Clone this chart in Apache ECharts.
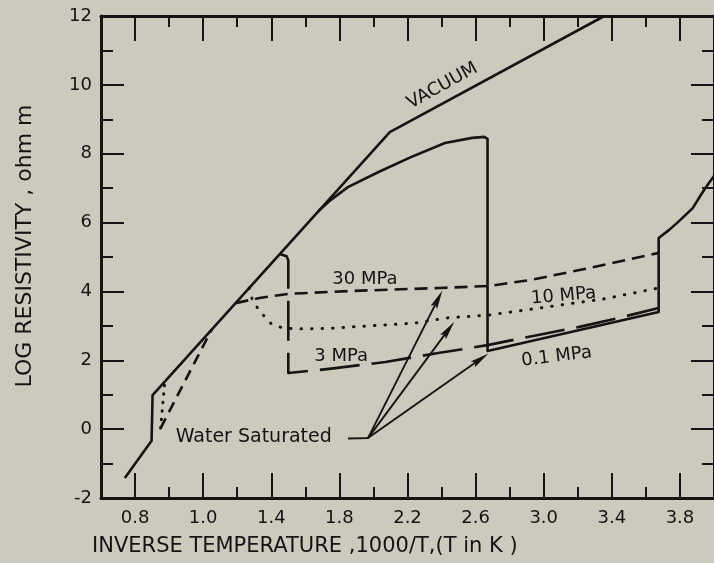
<!DOCTYPE html>
<html>
<head>
<meta charset="utf-8">
<script src="https://cdn.jsdelivr.net/npm/echarts@6/dist/echarts.min.js"></script>
<style>
  html, body { margin: 0; padding: 0; background: #cdc9bc; }
  #chart { width: 714px; height: 563px; }
</style>
</head>
<body>
<div id="chart"></div>
<script>
// Log resistivity versus inverse temperature, dry (vacuum) and water saturated.
const xTickValues = [0.6, 1.0, 1.4, 1.8, 2.2, 2.6, 3.0, 3.4, 3.8];
const xTickLabels = ['0.8', '1.0', '1.4', '1.8', '2.2', '2.6', '3.0', '3.4', '3.8'];

const vacuumX = [0.54, 0.697, 0.703, 2.096, 3.356];
const vacuumY = [-1.42, -0.34, 0.99, 8.63, 12.0];

// 0.1 MPa (solid)
const p01X = [1.676, 1.75, 1.85, 2.03, 2.22, 2.42, 2.58, 2.65, 2.67, 2.67, 3.675, 3.675, 3.735, 3.79, 3.875, 3.93, 3.97, 4.0];
const p01Y = [6.33, 6.66, 7.03, 7.47, 7.90, 8.31, 8.46, 8.49, 8.43, 2.27, 3.40, 5.55, 5.78, 6.02, 6.42, 6.86, 7.15, 7.35];

// 3 MPa (long dash)
const p3X = [1.45, 1.49, 1.50, 1.50, 1.74, 2.07, 2.38, 2.67, 2.96, 3.21, 3.44, 3.675];
const p3Y = [5.09, 5.02, 4.90, 1.63, 1.75, 1.95, 2.21, 2.44, 2.73, 2.97, 3.23, 3.52];

// 10 MPa (dotted)
const p10HotX = [0.75, 0.775];
const p10HotY = [0.03, 1.39];
const p10X = [1.27, 1.29, 1.34, 1.40, 1.46, 1.55, 1.75, 2.24, 2.43, 2.69, 3.02, 3.35, 3.675];
const p10Y = [4.10, 3.72, 3.38, 3.06, 2.95, 2.91, 2.93, 3.08, 3.23, 3.32, 3.55, 3.78, 4.10];

// 30 MPa (short dash)
const p30HotX = [0.75, 1.05];
const p30HotY = [0.03, 2.89];
const p30X = [1.19, 1.33, 1.50, 1.85, 2.39, 2.68, 2.92, 3.21, 3.675];
const p30Y = [3.66, 3.81, 3.93, 4.01, 4.10, 4.16, 4.33, 4.62, 5.12];

// "Water Saturated" leader and arrows: [fromX, fromY, toX, toY, arrowhead]
const leaders = [
  [1.851, -0.27, 1.968, -0.26, 0],
  [1.968, -0.26, 2.405, 4.03, 1],
  [1.968, -0.26, 2.475, 3.12, 1],
  [1.968, -0.26, 2.675, 2.20, 1]
];

// Curve annotations
const noteText = ['VACUUM', '30 MPa', '3 MPa', '10 MPa', '0.1 MPa'];
const noteX = [2.405, 1.95, 1.81, 3.117, 3.076];
const noteY = [9.97, 4.36, 2.12, 3.87, 2.10];
const noteAngle = [29, 0, 0, 5, 7];

const waterText = 'Water Saturated';
const waterPos = [0.839, -0.23];

const ink = '#141414';
const font = 'DejaVu Sans';

const pairs = (xs, ys) => xs.map((x, i) => [x, ys[i]]);

function curve(xs, ys, dash, extra) {
  return Object.assign({
    type: 'line',
    data: pairs(xs, ys),
    symbol: 'none',
    smooth: false,
    silent: true,
    animation: false,
    clip: true,
    lineStyle: { color: ink, width: 2.6, type: dash, cap: 'butt', join: 'round' }
  }, extra || {});
}

const chart = echarts.init(document.getElementById('chart'), null, { renderer: 'canvas' });

const xBase = {
  type: 'value', min: 0.4, max: 4.0, interval: 0.4,
  axisLine: { show: true, onZero: false, lineStyle: { color: ink, width: 3 } },
  axisTick: { show: true, inside: true, length: 11, lineStyle: { color: ink, width: 2 } },
  minorTick: { show: true, splitNumber: 2, length: 25, lineStyle: { color: ink, width: 2 } },
  splitLine: { show: false }
};

const yBase = {
  type: 'value', min: -2, max: 12, interval: 2,
  axisLine: { show: true, onZero: false, lineStyle: { color: ink, width: 3 } },
  axisTick: { show: true, inside: true, length: 23, lineStyle: { color: ink, width: 2 } },
  minorTick: { show: true, splitNumber: 2, length: 12, lineStyle: { color: ink, width: 2 } },
  splitLine: { show: false }
};

const option = {
  backgroundColor: '#cdc9bc',
  animation: false,
  grid: { left: 101, top: 16, width: 617.4, height: 482, containLabel: false },
  xAxis: [
    Object.assign({}, xBase, {
      position: 'bottom',
      axisLabel: {
        show: true,
        customValues: xTickValues,
        margin: 11,
        color: ink, fontSize: 18, fontFamily: font,
        formatter: function (v) {
          let best = 0;
          xTickValues.forEach((t, i) => { if (Math.abs(t - v) < Math.abs(xTickValues[best] - v)) best = i; });
          return xTickLabels[best];
        }
      }
    }),
    Object.assign({}, xBase, { position: 'top', axisLabel: { show: false } })
  ],
  yAxis: [
    Object.assign({}, yBase, {
      position: 'left',
      axisLabel: { show: true, margin: 9, color: ink, fontSize: 18, fontFamily: font }
    }),
    Object.assign({}, yBase, { position: 'right', axisLabel: { show: false } })
  ],
  graphic: [
    {
      type: 'text', left: 92, top: 536, silent: true,
      style: { text: 'INVERSE TEMPERATURE ,1000/T,(T in K )', fill: ink, fontSize: 21, fontFamily: font }
    },
    {
      type: 'text', x: 25, y: 246, rotation: Math.PI / 2, silent: true,
      style: { text: 'LOG RESISTIVITY , ohm m', fill: ink, fontSize: 22, fontFamily: font, align: 'center', verticalAlign: 'middle' }
    }
  ],
  series: [
    curve(vacuumX, vacuumY, 'solid'),
    curve(p01X, p01Y, 'solid'),
    curve(p3X, p3Y, [40, 12]),
    curve(p10HotX, p10HotY, [0.5, 8], { lineStyle: { color: ink, width: 3, type: [0.5, 8], cap: 'round' } }),
    curve(p10X, p10Y, [0.5, 10], { lineStyle: { color: ink, width: 3, type: [0.5, 10], cap: 'round' } }),
    curve(p30HotX, p30HotY, [11, 7]),
    curve(p30X, p30Y, [13, 7]),
    {
      type: 'custom',
      coordinateSystem: 'cartesian2d',
      silent: true,
      animation: false,
      encode: { x: [0, 2], y: [1, 3] },
      data: leaders,
      renderItem: function (params, api) {
        const a = api.coord([api.value(0), api.value(1)]);
        const b = api.coord([api.value(2), api.value(3)]);
        const children = [];
        const dx = b[0] - a[0], dy = b[1] - a[1];
        const len = Math.sqrt(dx * dx + dy * dy);
        const ux = dx / len, uy = dy / len;
        const head = api.value(4) ? 19 : 0;
        children.push({
          type: 'line',
          shape: { x1: a[0], y1: a[1], x2: b[0] - ux * head * 0.6, y2: b[1] - uy * head * 0.6 },
          style: { stroke: ink, lineWidth: 1.9 }
        });
        if (head) {
          const bx = b[0] - ux * head, by = b[1] - uy * head;
          const w = 3.6;
          children.push({
            type: 'polygon',
            shape: { points: [[b[0], b[1]], [bx - uy * w, by + ux * w], [bx + ux * 3, by + uy * 3], [bx + uy * w, by - ux * w]] },
            style: { fill: ink }
          });
        }
        return { type: 'group', children: children };
      }
    },
    {
      type: 'scatter',
      silent: true,
      animation: false,
      symbolSize: 0,
      itemStyle: { opacity: 1, color: ink },
      data: noteText.map((t, i) => ({
        name: t,
        value: [noteX[i], noteY[i]],
        label: { rotate: noteAngle[i] }
      })).concat([{
        name: waterText,
        value: waterPos,
        label: { position: 'right', distance: 0, fontSize: 19 }
      }]),
      label: {
        show: true,
        position: 'inside',
        formatter: '{b}',
        color: ink, opacity: 1, fontSize: 18, fontFamily: font
      }
    }
  ]
};

chart.setOption(option);
</script>
</body>
</html>
